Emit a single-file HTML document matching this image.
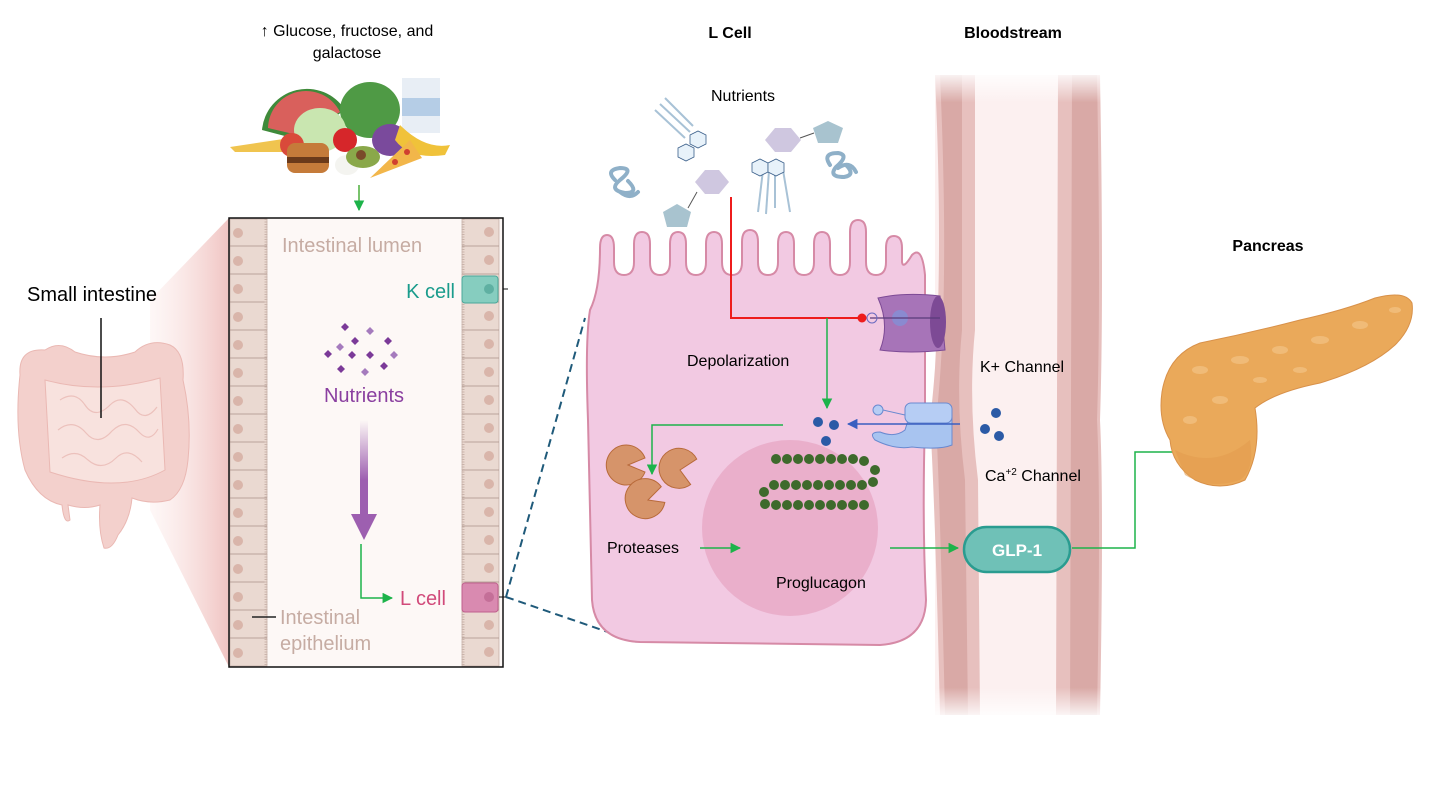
<!DOCTYPE html>
<html><head><meta charset="utf-8"><style>
body{margin:0;background:#fff}
svg{display:block}
text{font-family:"Liberation Sans",sans-serif}
</style></head><body>
<svg width="1454" height="787" viewBox="0 0 1454 787" xmlns="http://www.w3.org/2000/svg">
<defs>
<linearGradient id="zg" x1="0" x2="1"><stop offset="0" stop-color="#fbe6e4" stop-opacity="0.3"/><stop offset="1" stop-color="#f0c4c2"/></linearGradient>
<linearGradient id="pa" x1="0" y1="0" x2="0" y2="1"><stop offset="0" stop-color="#9d5fb0" stop-opacity="0"/><stop offset="0.6" stop-color="#9d5fb0"/></linearGradient>
<linearGradient id="bs" x1="0" y1="0" x2="0" y2="1"><stop offset="0" stop-color="#fff" stop-opacity="1"/><stop offset="0.05" stop-color="#fff" stop-opacity="0"/><stop offset="0.95" stop-color="#fff" stop-opacity="0"/><stop offset="1" stop-color="#fff" stop-opacity="1"/></linearGradient>
<marker id="ag" viewBox="0 0 10 10" refX="9" refY="5" markerWidth="7" markerHeight="7" orient="auto"><path d="M0,0L10,5L0,10z" fill="#1db34a"/></marker>
<marker id="ab" viewBox="0 0 10 10" refX="9" refY="5" markerWidth="7" markerHeight="7" orient="auto"><path d="M0,0L10,5L0,10z" fill="#3a5fc0"/></marker>
</defs>

<text x="347" y="36" font-size="16" text-anchor="middle">↑ Glucose, fructose, and</text>
<text x="347" y="58" font-size="16" text-anchor="middle">galactose</text>
<text x="730" y="38" font-size="16" font-weight="bold" text-anchor="middle">L Cell</text>
<text x="1013" y="38" font-size="16" font-weight="bold" text-anchor="middle">Bloodstream</text>
<text x="1268" y="251" font-size="16" font-weight="bold" text-anchor="middle">Pancreas</text>

<!-- food -->
<g>
<path d="M262,130 A45,45 0 0 1 345,110 L300,140z" fill="#3f8a3a"/>
<path d="M268,128 A38,38 0 0 1 340,112 L302,136z" fill="#d9605c"/>
<ellipse cx="370" cy="110" rx="30" ry="28" fill="#4f9a45"/>
<rect x="402" y="78" width="38" height="55" fill="#e8eef5"/><rect x="402" y="98" width="38" height="18" fill="#b5cde6"/>
<ellipse cx="320" cy="130" rx="26" ry="22" fill="#c9e6b0"/>
<ellipse cx="390" cy="140" rx="18" ry="16" fill="#7a4a9c"/>
<path d="M400,125 Q425,150 450,145 L445,155 Q410,160 395,140z" fill="#f0c23a"/>
<path d="M230,147 L290,138 L292,152 L235,152z" fill="#f0c44f"/>
<circle cx="292" cy="145" r="12" fill="#d94a3a"/>
<circle cx="345" cy="140" r="12" fill="#d6262a"/>
<rect x="287" y="143" width="42" height="30" rx="8" fill="#c57b3a"/><rect x="287" y="157" width="42" height="6" fill="#6b3a1a"/>
<ellipse cx="347" cy="165" rx="12" ry="10" fill="#f4f4f0"/>
<ellipse cx="363" cy="157" rx="17" ry="11" fill="#8aa84a"/><circle cx="361" cy="155" r="5" fill="#7a4a2a"/>
<path d="M370,178 L410,140 L422,158z" fill="#f2b64a"/><circle cx="395" cy="162" r="3" fill="#d04030"/><circle cx="407" cy="152" r="3" fill="#d04030"/>
</g>
<line x1="359" y1="185" x2="359" y2="210" stroke="#4caf3a" stroke-width="1.5" marker-end="url(#ag)"/>

<path d="M150,300 L229,218 L229,667 L150,510z" fill="url(#zg)"/>
<!-- intestine -->
<g fill="#f3d0cc" stroke="#eab8b3" stroke-width="1">
<path d="M20,375 Q18,348 45,350 Q60,340 75,352 Q105,362 135,352 Q150,338 170,345 Q185,352 183,380 Q192,420 188,460 Q185,490 170,500 Q150,505 132,498 Q130,520 118,535 Q112,550 104,548 Q98,530 100,505 Q85,510 68,505 L70,520 Q64,525 62,505 Q38,500 25,470 Q14,430 20,375z"/>
<path d="M45,380 Q100,395 160,378 L165,470 Q120,495 50,472z" fill="#f8e2de"/>
</g>
<g fill="none" stroke="#ecc1bc" stroke-width="1.2">
<path d="M60,400 q15,-10 25,5 q10,15 25,0 q12,-12 25,4 q10,14 22,-2"/>
<path d="M58,430 q15,-12 28,3 q12,14 26,-2 q14,-14 28,2 q10,10 18,-4"/>
<path d="M62,458 q14,-10 26,2 q14,12 28,-2 q12,-12 26,4"/>
</g>
<text x="27" y="301" font-size="20">Small intestine</text>
<line x1="101" y1="318" x2="101" y2="418" stroke="#111" stroke-width="1.5"/>

<rect x="229" y="218" width="274" height="449" fill="#fdf8f6"/>
<g fill="#ead9d1" stroke="#bfa9a0" stroke-width="0.7">
<rect x="230" y="219" width="37" height="447"/>
<rect x="462" y="219" width="37" height="447"/>
</g>
<g stroke="#a89088" stroke-width="0.8">
<line x1="230" y1="246" x2="267" y2="246"/><line x1="230" y1="274" x2="267" y2="274"/><line x1="230" y1="302" x2="267" y2="302"/><line x1="230" y1="330" x2="267" y2="330"/><line x1="230" y1="358" x2="267" y2="358"/><line x1="230" y1="386" x2="267" y2="386"/><line x1="230" y1="414" x2="267" y2="414"/><line x1="230" y1="442" x2="267" y2="442"/><line x1="230" y1="470" x2="267" y2="470"/><line x1="230" y1="498" x2="267" y2="498"/><line x1="230" y1="526" x2="267" y2="526"/><line x1="230" y1="554" x2="267" y2="554"/><line x1="230" y1="582" x2="267" y2="582"/><line x1="230" y1="610" x2="267" y2="610"/><line x1="230" y1="638" x2="267" y2="638"/>
<line x1="462" y1="246" x2="499" y2="246"/><line x1="462" y1="274" x2="499" y2="274"/><line x1="462" y1="302" x2="499" y2="302"/><line x1="462" y1="330" x2="499" y2="330"/><line x1="462" y1="358" x2="499" y2="358"/><line x1="462" y1="386" x2="499" y2="386"/><line x1="462" y1="414" x2="499" y2="414"/><line x1="462" y1="442" x2="499" y2="442"/><line x1="462" y1="470" x2="499" y2="470"/><line x1="462" y1="498" x2="499" y2="498"/><line x1="462" y1="526" x2="499" y2="526"/><line x1="462" y1="554" x2="499" y2="554"/><line x1="462" y1="582" x2="499" y2="582"/><line x1="462" y1="610" x2="499" y2="610"/><line x1="462" y1="638" x2="499" y2="638"/>
</g>
<line x1="266" y1="219" x2="266" y2="666" stroke="#c9b3aa" stroke-width="3" stroke-dasharray="1 1.5"/>
<line x1="463" y1="219" x2="463" y2="666" stroke="#c9b3aa" stroke-width="3" stroke-dasharray="1 1.5"/>
<rect x="462" y="276" width="36" height="27" rx="3" fill="#86cdbf" stroke="#4aa89a"/>
<rect x="462" y="583" width="36" height="29" rx="3" fill="#d98ab0" stroke="#c0608e"/>
<g fill="#d9b5aa">
<circle cx="238" cy="233" r="5"/><circle cx="238" cy="261" r="5"/><circle cx="238" cy="289" r="5"/><circle cx="238" cy="317" r="5"/><circle cx="238" cy="345" r="5"/><circle cx="238" cy="373" r="5"/><circle cx="238" cy="401" r="5"/><circle cx="238" cy="429" r="5"/><circle cx="238" cy="457" r="5"/><circle cx="238" cy="485" r="5"/><circle cx="238" cy="513" r="5"/><circle cx="238" cy="541" r="5"/><circle cx="238" cy="569" r="5"/><circle cx="238" cy="597" r="5"/><circle cx="238" cy="625" r="5"/><circle cx="238" cy="653" r="5"/>
<circle cx="489" cy="232" r="5"/><circle cx="489" cy="260" r="5"/><circle cx="489" cy="289" r="5" fill="#5fb0a2"/><circle cx="489" cy="316" r="5"/><circle cx="489" cy="344" r="5"/><circle cx="489" cy="372" r="5"/><circle cx="489" cy="400" r="5"/><circle cx="489" cy="428" r="5"/><circle cx="489" cy="456" r="5"/><circle cx="489" cy="484" r="5"/><circle cx="489" cy="512" r="5"/><circle cx="489" cy="540" r="5"/><circle cx="489" cy="568" r="5"/><circle cx="489" cy="597" r="5" fill="#c46f98"/><circle cx="489" cy="625" r="5"/><circle cx="489" cy="652" r="5"/>
</g>
<rect x="229" y="218" width="274" height="449" fill="none" stroke="#111" stroke-width="1.5"/>
<line x1="503" y1="289" x2="508" y2="289" stroke="#111"/>
<text x="282" y="252" font-size="20" fill="#c6aca3">Intestinal lumen</text>
<text x="455" y="298" font-size="20" fill="#1a9c8c" text-anchor="end">K cell</text>
<g fill="#7b3a98">
<path d="M345,323l4,4-4,4-4-4z"/><path d="M370,327l4,4-4,4-4-4z" fill="#a57bbd"/><path d="M355,337l4,4-4,4-4-4z"/><path d="M388,337l4,4-4,4-4-4z"/>
<path d="M328,350l4,4-4,4-4-4z"/><path d="M340,343l4,4-4,4-4-4z" fill="#a57bbd"/><path d="M352,351l4,4-4,4-4-4z"/><path d="M370,351l4,4-4,4-4-4z"/><path d="M394,351l4,4-4,4-4-4z" fill="#a57bbd"/>
<path d="M341,365l4,4-4,4-4-4z"/><path d="M365,368l4,4-4,4-4-4z" fill="#a57bbd"/><path d="M384,362l4,4-4,4-4-4z"/>
</g>
<text x="364" y="402" font-size="20" fill="#8a3fa0" text-anchor="middle">Nutrients</text>
<rect x="360" y="420" width="8" height="100" fill="url(#pa)"/>
<path d="M351,514 L377,514 L364,540z" fill="#9d5fb0"/>
<polyline points="361,544 361,598 392,598" fill="none" stroke="#1db34a" stroke-width="1.5" marker-end="url(#ag)"/>
<text x="400" y="605" font-size="20" fill="#d14a7a">L cell</text>
<line x1="252" y1="617" x2="276" y2="617" stroke="#222" stroke-width="1.5"/>
<text x="280" y="624" font-size="20" fill="#c6aca3">Intestinal</text>
<text x="280" y="650" font-size="20" fill="#c6aca3">epithelium</text>
<line x1="499" y1="597" x2="506" y2="597" stroke="#111"/>
<path d="M506,597 L585,318" stroke="#1f5a7a" stroke-width="2" stroke-dasharray="8 5" fill="none"/>
<path d="M506,597 L637,642" stroke="#1f5a7a" stroke-width="2" stroke-dasharray="8 5" fill="none"/>

<!-- bloodstream -->
<rect x="935" y="75" width="165" height="640" fill="#fcf0f0"/>
<path d="M935,75 L975,75 L975,330 Q968,400 978,480 L980,715 L940,715 Q935,500 930,420 Q945,300 935,75z" fill="#e7c0be"/>
<path d="M940,75 L962,75 L962,330 Q955,400 965,480 L968,715 L945,715 Q940,500 936,420 Q950,300 940,75z" fill="#d9a9a6"/>
<path d="M1058,75 L1100,75 Q1104,300 1100,420 Q1104,500 1100,715 L1056,715 L1058,75z" fill="#e7c0be"/>
<path d="M1072,75 L1097,75 Q1101,300 1097,420 Q1101,500 1097,715 L1070,715 L1072,75z" fill="#d9a9a6"/>
<rect x="930" y="70" width="175" height="650" fill="url(#bs)"/>

<!-- L cell body -->
<path d="M600,248 Q600,235 607,235 Q614,235 614,248 L614,262 Q614,275 624,275 Q634,275 634,262 L634,244 Q634,232 642,232 Q650,232 650,244 L650,262 Q650,275 660,275 Q670,275 670,262 L670,244 Q670,232 678,232 Q686,232 686,244 L686,262 Q686,275 696,275 Q706,275 706,262 L706,244 Q706,232 714,232 Q722,232 722,244 L722,262 Q722,275 732,275 Q742,275 742,262 L742,242 Q742,230 750,230 Q758,230 758,242 L758,262 Q758,275 768,275 Q778,275 778,262 L778,244 Q778,232 786,232 Q794,232 794,244 L794,262 Q794,275 804,275 Q814,275 814,262 L814,244 Q814,232 822,232 Q830,232 830,244 L830,262 Q830,275 840,275 Q850,275 850,262 L850,232 Q850,220 858,220 Q866,220 866,232 L866,262 Q866,275 876,275 Q886,275 886,262 L886,248 Q886,236 894,236 Q902,236 902,248 L902,262 Q903,270 912,255 Q922,245 925,275 L925,420 Q922,520 926,600 Q925,642 880,645 L640,642 Q595,640 592,600 L588,420 Q585,340 590,310 Q600,290 600,248z" fill="#f2c9e2" stroke="#d68aa6" stroke-width="2"/>
<circle cx="790" cy="528" r="88" fill="#e7a9c5" opacity="0.8"/>

<g fill="none" stroke="#8fb0c8" stroke-width="4" stroke-linecap="round">
<path d="M615,180 q-10,-10 5,-12 q15,0 0,12 q-12,10 5,13 q15,0 3,-12 M620,192 q10,8 18,0"/>
<path d="M830,165 q-8,-12 8,-12 q12,2 -2,14 q-8,10 8,10 q12,-2 2,-12 M838,168 q12,-8 18,4"/>
</g>
<g stroke="#a8c2d6" stroke-width="2">
<line x1="655" y1="110" x2="685" y2="138"/><line x1="660" y1="104" x2="690" y2="132"/><line x1="665" y1="98" x2="693" y2="126"/>
<line x1="763" y1="170" x2="758" y2="212"/><line x1="769" y1="170" x2="766" y2="214"/><line x1="775" y1="170" x2="775" y2="208"/><line x1="783" y1="170" x2="790" y2="212"/>
</g>
<g stroke="#3a5f8a" stroke-width="0.8" fill="#e8f2fa">
<path d="M690,135l8,-4 8,4 0,9 -8,4 -8,-4z"/><path d="M678,148l8,-4 8,4 0,9 -8,4 -8,-4z"/>
<path d="M752,163l8,-4 8,4 0,9 -8,4 -8,-4z"/><path d="M768,163l8,-4 8,4 0,9 -8,4 -8,-4z"/>
</g>
<path d="M765,140 l10,-12 h16 l10,12 l-10,12 h-16z" fill="#cfc7e0"/>
<path d="M813,128 l15,-7 l15,7 l-5,15 h-20z" fill="#a8c3cf"/>
<line x1="800" y1="138" x2="814" y2="133" stroke="#555"/>
<path d="M695,182 l10,-12 h14 l10,12 l-10,12 h-14z" fill="#cfc7e0"/>
<path d="M663,212 l14,-8 l14,8 l-4,15 h-20z" fill="#a8c3cf"/>
<line x1="688" y1="208" x2="697" y2="192" stroke="#555"/>
<text x="743" y="101" font-size="16" text-anchor="middle">Nutrients</text>

<g>
<path d="M878,298 Q905,292 940,296 L945,350 Q910,354 880,350 Q890,325 878,298z" fill="#a774b8" stroke="#7d4a95"/>
<ellipse cx="938" cy="322" rx="8" ry="26" fill="#7d4a95"/>
<circle cx="900" cy="318" r="8" fill="#8a8ad0"/>
<line x1="870" y1="318" x2="940" y2="318" stroke="#5a3a7a" stroke-width="1.2"/>
<circle cx="872" cy="318" r="5" fill="none" stroke="#6a6ac0"/>
</g>
<polyline points="731,197 731,318 860,318" fill="none" stroke="#ee1c1c" stroke-width="2"/>
<circle cx="862" cy="318" r="4.5" fill="#ee1c1c"/>
<line x1="827" y1="318" x2="827" y2="408" stroke="#1db34a" stroke-width="1.5" marker-end="url(#ag)"/>
<text x="687" y="366" font-size="16">Depolarization</text>
<text x="980" y="372" font-size="16">K+ Channel</text>

<path d="M912,408 Q940,405 952,412 L952,445 Q940,450 912,447 Q895,450 875,440 Q868,432 880,432 Q895,438 905,430 Z" fill="#a8c4f0" stroke="#6a8ad0"/>
<rect x="905" y="403" width="47" height="20" rx="6" fill="#b6cdf4" stroke="#6a8ad0"/>
<circle cx="878" cy="410" r="5" fill="#b6cdf4" stroke="#6a8ad0"/>
<line x1="883" y1="410" x2="905" y2="415" stroke="#6a8ad0"/>
<line x1="960" y1="424" x2="848" y2="424" stroke="#3a5fc0" stroke-width="1.5" marker-end="url(#ab)"/>
<g fill="#2b5aa6">
<circle cx="818" cy="422" r="5"/><circle cx="834" cy="425" r="5"/><circle cx="826" cy="441" r="5"/>
<circle cx="996" cy="413" r="5"/><circle cx="985" cy="429" r="5"/><circle cx="999" cy="436" r="5"/>
</g>
<text x="985" y="481" font-size="16">Ca<tspan font-size="10" dy="-6">+2</tspan><tspan dy="6"> Channel</tspan></text>
<polyline points="783,425 652,425 652,474" fill="none" stroke="#1db34a" stroke-width="1.5" marker-end="url(#ag)"/>

<g fill="#d6946a" stroke="#b86a3a">
<path d="M628,465 L645,458 A20,20 0 1 0 645,472z"/>
<path d="M680,470 L668,486 A20,20 0 1 0 665,460z" transform="rotate(200 680 470)"/>
<path d="M648,500 L665,492 A20,20 0 1 0 663,508z" transform="rotate(-20 648 500)"/>
</g>
<text x="607" y="553" font-size="16">Proteases</text>
<line x1="700" y1="548" x2="740" y2="548" stroke="#1db34a" stroke-width="1.5" marker-end="url(#ag)"/>

<g fill="#3e6a2c">
<circle cx="776" cy="459" r="5"/><circle cx="787" cy="459" r="5"/><circle cx="798" cy="459" r="5"/><circle cx="809" cy="459" r="5"/><circle cx="820" cy="459" r="5"/><circle cx="831" cy="459" r="5"/><circle cx="842" cy="459" r="5"/><circle cx="853" cy="459" r="5"/><circle cx="864" cy="461" r="5"/><circle cx="875" cy="470" r="5"/>
<circle cx="873" cy="482" r="5"/><circle cx="862" cy="485" r="5"/><circle cx="851" cy="485" r="5"/><circle cx="840" cy="485" r="5"/><circle cx="829" cy="485" r="5"/><circle cx="818" cy="485" r="5"/><circle cx="807" cy="485" r="5"/><circle cx="796" cy="485" r="5"/><circle cx="785" cy="485" r="5"/><circle cx="774" cy="485" r="5"/><circle cx="764" cy="492" r="5"/>
<circle cx="765" cy="504" r="5"/><circle cx="776" cy="505" r="5"/><circle cx="787" cy="505" r="5"/><circle cx="798" cy="505" r="5"/><circle cx="809" cy="505" r="5"/><circle cx="820" cy="505" r="5"/><circle cx="831" cy="505" r="5"/><circle cx="842" cy="505" r="5"/><circle cx="853" cy="505" r="5"/><circle cx="864" cy="505" r="5"/>
</g>
<text x="776" y="588" font-size="16">Proglucagon</text>
<line x1="890" y1="548" x2="958" y2="548" stroke="#1db34a" stroke-width="1.5" marker-end="url(#ag)"/>

<rect x="964" y="527" width="106" height="45" rx="22.5" fill="#6fc1b7" stroke="#2a9c90" stroke-width="2.5"/>
<text x="1017" y="556" font-size="17" font-weight="bold" fill="#fff" text-anchor="middle">GLP-1</text>
<polyline points="1072,548 1135,548 1135,452 1198,452" fill="none" stroke="#1db34a" stroke-width="1.5" marker-end="url(#ag)"/>

<path d="M1162,392 Q1168,355 1200,343 Q1250,333 1300,320 Q1345,310 1375,298 Q1405,290 1412,303 Q1415,325 1395,345 Q1370,368 1320,383 Q1275,392 1255,408 Q1262,450 1245,480 Q1220,492 1195,480 Q1172,465 1170,440 Q1158,420 1162,392z" fill="#eaa95a" stroke="#d8914a"/>
<g fill="#f3c486" opacity="0.7">
<ellipse cx="1200" cy="370" rx="8" ry="4"/><ellipse cx="1240" cy="360" rx="9" ry="4"/><ellipse cx="1280" cy="350" rx="8" ry="4"/><ellipse cx="1320" cy="340" rx="9" ry="4"/><ellipse cx="1360" cy="325" rx="8" ry="4"/><ellipse cx="1395" cy="310" rx="6" ry="3"/><ellipse cx="1220" cy="400" rx="8" ry="4"/><ellipse cx="1300" cy="370" rx="7" ry="3"/><ellipse cx="1190" cy="420" rx="7" ry="4"/><ellipse cx="1260" cy="380" rx="7" ry="3"/>
</g>
<path d="M1175,450 Q1215,470 1250,440 Q1255,470 1240,480 Q1210,490 1185,475z" fill="#e39d4e" opacity="0.6"/>
</svg>
</body></html>
